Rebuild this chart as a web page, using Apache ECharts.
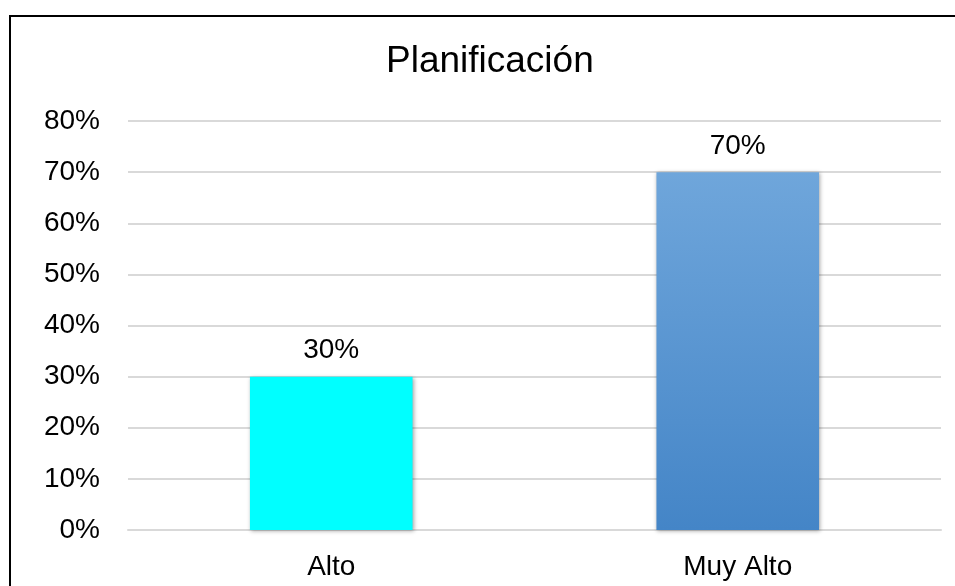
<!DOCTYPE html>
<html>
<head>
<meta charset="utf-8">
<script src="https://cdn.jsdelivr.net/npm/echarts@6/dist/echarts.min.js"></script>
<style>
  html, body { margin: 0; padding: 0; background: #fff; }
  #frame { position: absolute; left: 9px; top: 15px; width: 946px; height: 571px;
           border-top: 2px solid #000; border-left: 2px solid #000; }
  #chart { position: absolute; left: 0; top: 0; width: 955px; height: 586px; }
</style>
</head>
<body>
<div id="frame"></div>
<div id="chart"></div>
<script>
const title = 'Planificación';
const categories = ['Alto', 'Muy Alto'];
const values = [30, 70];
const yTicks = [0, 10, 20, 30, 40, 50, 60, 70, 80];

const fontFamily = 'Liberation Sans, Arial, sans-serif';
const barStyles = [
  { color: '#00ffff' },
  { color: new echarts.graphic.LinearGradient(0, 0, 0, 1, [
      { offset: 0, color: '#6fa6db' },
      { offset: 1, color: '#4485c7' }
    ]) }
];

const chart = echarts.init(document.getElementById('chart'), null, { renderer: 'canvas' });
chart.setOption({
  backgroundColor: 'transparent',
  animation: false,
  title: {
    text: title,
    left: 381,
    top: 38,
    textStyle: { fontFamily, fontSize: 37, fontWeight: 'normal', color: '#000' }
  },
  grid: { left: 128, right: 14, top: 121, bottom: 56, containLabel: false },
  xAxis: {
    type: 'category',
    data: categories,
    axisLine: { lineStyle: { color: '#d9d9d9', width: 2 } },
    axisTick: { show: false },
    axisLabel: { fontFamily, fontSize: 28, color: '#000', margin: 23 }
  },
  yAxis: {
    type: 'value',
    min: yTicks[0],
    max: yTicks[yTicks.length - 1],
    interval: yTicks[1] - yTicks[0],
    axisLine: { show: false },
    axisTick: { show: false },
    splitLine: { lineStyle: { color: '#d9d9d9', width: 2 } },
    axisLabel: { fontFamily, fontSize: 28, color: '#000', margin: 28, formatter: '{value}%' }
  },
  series: [{
    type: 'bar',
    barWidth: '40%',
    data: values.map((v, i) => ({
      value: v,
      itemStyle: Object.assign({
        shadowBlur: 4, shadowColor: 'rgba(0,0,0,0.35)', shadowOffsetX: 1, shadowOffsetY: 1
      }, barStyles[i])
    })),
    label: {
      show: true,
      position: 'top',
      distance: 12,
      formatter: '{c}%',
      fontFamily, fontSize: 28, color: '#000'
    }
  }]
});
</script>
</body>
</html>
